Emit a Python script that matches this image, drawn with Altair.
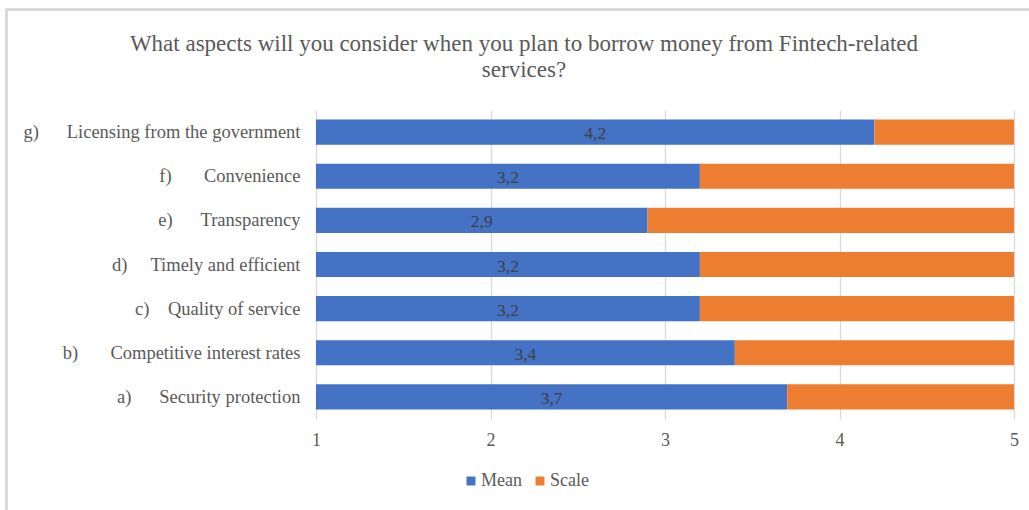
import altair as alt
import pandas as pd

NB = "\u00a0"
prefixes = ["g)", "f)", "e)", "d)", "c)", "b)", "a)"]
names = ["Licensing from the government", "Convenience", "Transparency",
         "Timely and efficient", "Quality of service", "Competitive interest rates" + NB,
         "Security protection"]
gaps = [6, 7, 6, 5, 4, 7, 6]
means = [4.2, 3.2, 2.9, 3.2, 3.2, 3.4, 3.7]
scale_min, scale_max = 1, 5
series = ["Mean", "Scale"]
colors = ["#4472C4", "#ED7D31"]
title_text = ("What aspects will you consider when you plan to borrow money from Fintech-related\n"
              "services?")

cats = [p + NB * g + n for p, g, n in zip(prefixes, gaps, names)]

rows = []
for c, m in zip(cats, means):
    rows.append({"cat": c, "series": "Mean", "start": scale_min, "end": m,
                 "label": f"{m:.1f}".replace(".", ",")})
    rows.append({"cat": c, "series": "Scale", "start": m, "end": scale_max, "label": ""})
df = pd.DataFrame(rows)

FONT = "'Liberation Serif', 'Times New Roman', Times, 'DejaVu Serif', serif"
W, H = 698, 309

y_enc = alt.Y("cat:N", sort=cats, title=None,
              scale=alt.Scale(paddingInner=0.43, paddingOuter=0.215),
              axis=alt.Axis(domain=False, ticks=False, labelPadding=16, labelFontSize=18.5,
                            labelFont=FONT, labelColor="#595959", labelLimit=400))
x_scale = alt.Scale(domain=[scale_min, scale_max], nice=False, zero=False)

bars = alt.Chart(df).mark_bar(opacity=1).encode(
    x=alt.X("start:Q", scale=x_scale, title=None,
            axis=alt.Axis(values=[1, 2, 3, 4, 5], format="d", grid=True, gridColor="#d9d9d9",
                          gridWidth=1.3, domain=False, ticks=False, labelPadding=12,
                          labelFlush=False,
                          labelFontSize=18, labelFont=FONT, labelColor="#595959")),
    x2="end:Q",
    y=y_enc,
    color=alt.Color("series:N", scale=alt.Scale(domain=series, range=colors),
                    legend=alt.Legend(title=None, orient="none", legendX=146, legendY=362,
                                      direction="horizontal", symbolType="square",
                                      symbolSize=80, labelFontSize=18, labelFont=FONT,
                                      labelColor="#595959", columnPadding=9,
                                      labelOffset=1, symbolStrokeWidth=0)),
)

text = alt.Chart(df).transform_filter(alt.datum.series == "Mean").transform_calculate(
    mid="(datum.start + datum.end) / 2"
).mark_text(font=FONT, fontSize=17.5, color="#404040", baseline="middle", dy=2).encode(
    x=alt.X("mid:Q", scale=x_scale),
    y=alt.Y("cat:N", sort=cats),
    text="label:N",
)

title = alt.Chart(pd.DataFrame({"t": [title_text]})).mark_text(
    font=FONT, fontSize=23, color="#595959", align="center", baseline="alphabetic",
    lineBreak="\n", lineHeight=26,
).encode(x=alt.value(208), y=alt.value(-59), text="t:N")

frame_left = alt.Chart(df).mark_rule(color="#d9d9d9", strokeWidth=2).encode(
    x=alt.value(-309.5), y=alt.value(-100.5), y2=alt.value(400))
frame_top = alt.Chart(df).mark_rule(color="#d9d9d9", strokeWidth=2).encode(
    x=alt.value(-309.5), x2=alt.value(713), y=alt.value(-100.5))

chart = alt.layer(frame_left, frame_top, title, bars, text).properties(
    width=W, height=H,
    autosize=alt.AutoSizeParams(type="none"),
    padding={"left": 316, "top": 110, "right": 15, "bottom": 91},
).configure_view(stroke=None)

chart.save("out.html", embed_options={"renderer": "svg", "actions": False})
